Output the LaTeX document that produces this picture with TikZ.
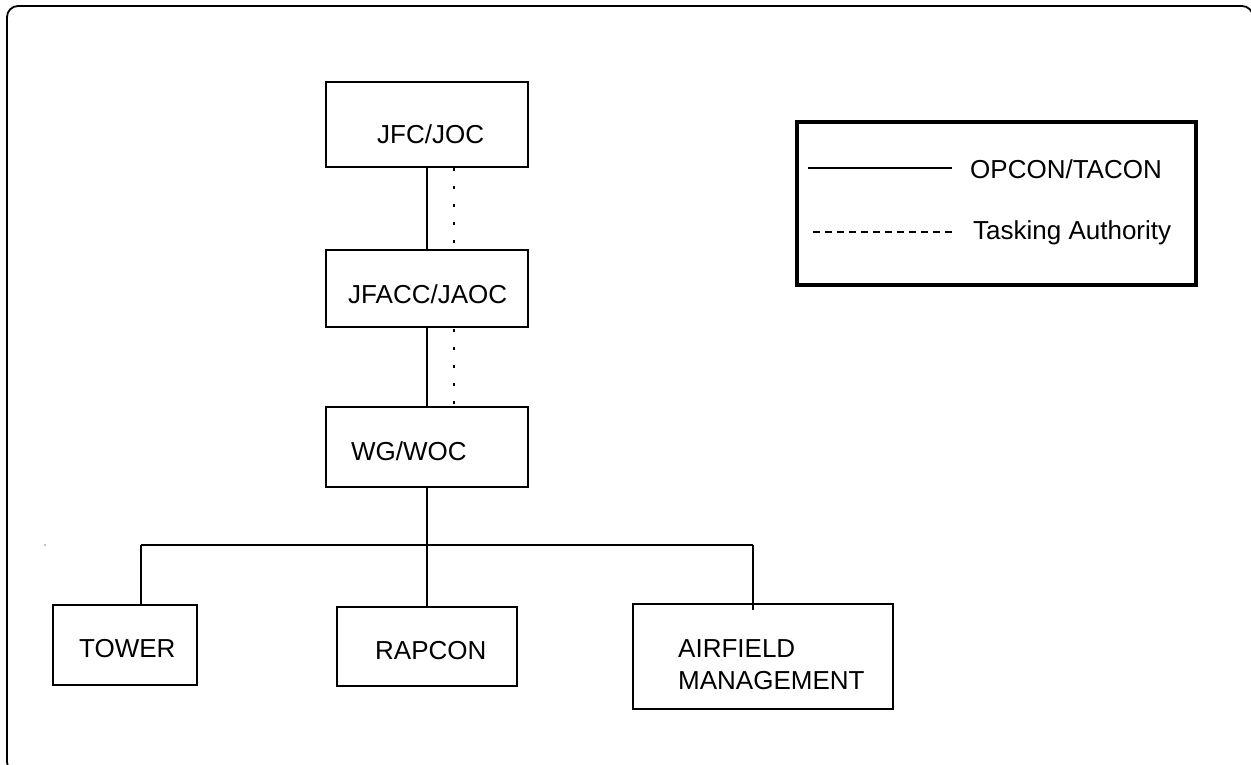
\documentclass[tikz,border=0pt]{standalone}
\usepackage{fontspec}
\setmainfont{Liberation Sans}
\begin{document}
\begin{tikzpicture}[x=1pt,y=-1pt,
  box/.style={draw=black,line width=1.4pt,rectangle,inner sep=0pt,outer sep=0pt},
  lbl/.style={anchor=base west,inner sep=0pt,font=\fontsize{26}{32}\selectfont},
  conn/.style={draw=black,line width=1.4pt},
  dotconn/.style={draw=black,line width=2.6pt,dash pattern=on 2.6pt off 15.4pt},
  legendbox/.style={draw=black,line width=3.5pt,rectangle,inner sep=0pt,outer sep=0pt},
  legdash/.style={draw=black,line width=1.6pt,dash pattern=on 7pt off 5pt}]
\useasboundingbox (0,0) rectangle (1251,765);
\clip (0,0) rectangle (1251,765);
% outer frame
\draw[line width=1.8pt,rounded corners=11pt] (7,6) rectangle (1253,773);
% stray dot
\fill (45,545) circle (0.7pt);
% boxes
\node[box,minimum width=202pt,minimum height=85pt] (jfc) at (427,124.5) {};
\node[lbl] (jfct) at (377,143.5) {JFC/JOC};
\node[box,minimum width=202pt,minimum height=77pt] (jfacc) at (427,288.5) {};
\node[lbl] (jfacct) at (348,303.5) {JFACC/JAOC};
\node[box,minimum width=202pt,minimum height=80pt] (wg) at (427,447) {};
\node[lbl] (wgt) at (351,460) {WG/WOC};
\node[box,minimum width=144pt,minimum height=80pt] (tower) at (125,645) {};
\node[lbl] (towert) at (79,657.3) {TOWER};
\node[box,minimum width=180pt,minimum height=79pt] (rapcon) at (427,646.5) {};
\node[lbl] (rapcont) at (375,659) {RAPCON};
\node[box,minimum width=260pt,minimum height=105pt] (air) at (763,656.5) {};
\node[lbl] (airt1) at (678,657.3) {AIRFIELD};
\node[lbl] (airt2) at (678,689) {MANAGEMENT};
% connectors
\draw[conn] (jfc.south) -- (jfacc.north);
\draw[dotconn] ([xshift=27pt,yshift=-1pt]jfc.south) -- ([xshift=27pt]jfacc.north);
\draw[conn] (jfacc.south) -- (wg.north);
\draw[dotconn] ([xshift=27pt,yshift=-2pt]jfacc.south) -- ([xshift=27pt]wg.north);
\coordinate (bus) at (427,545);
\coordinate (busL) at (141,545);
\coordinate (busR) at (753,545);
\draw[conn] (wg.south) -- (bus);
\draw[conn] (busL) -- (busR);
\draw[conn] (busL) -- (busL |- tower.north);
\draw[conn] (bus) -- (rapcon.north);
\draw[conn] (busR) -- ([yshift=-6pt]busR |- air.north);
% legend
\node[legendbox,minimum width=399pt,minimum height=163pt] (legend) at (996.5,203.5) {};
\coordinate (l1a) at (808,168);
\coordinate (l1b) at (952,168);
\coordinate (l2a) at (813,232);
\coordinate (l2b) at (954,232);
\draw[conn] (l1a) -- (l1b);
\draw[legdash] (l2a) -- (l2b);
\node[lbl] (opcon) at (970,178.5) {OPCON/TACON};
\node[lbl] (task) at (973,239.5) {Tasking Authority};
\end{tikzpicture}
\end{document}
